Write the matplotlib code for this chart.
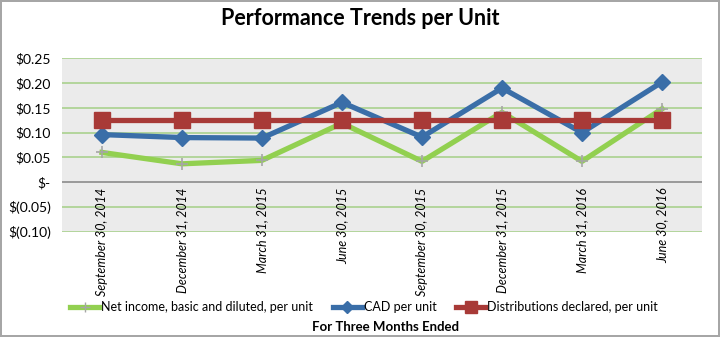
import matplotlib.pyplot as plt
from matplotlib.lines import Line2D

# data
quarters = ["September 30, 2014", "December 31, 2014", "March 31, 2015", "June 30, 2015",
            "September 30, 2015", "December 31, 2015", "March 31, 2016", "June 30, 2016"]
net_income = [0.060, 0.037, 0.044, 0.119, 0.042, 0.141, 0.042, 0.148]
cad = [0.096, 0.090, 0.089, 0.161, 0.091, 0.190, 0.100, 0.202]
distributions = [0.125, 0.125, 0.125, 0.125, 0.125, 0.125, 0.125, 0.125]
yticks = [-0.10, -0.05, 0.0, 0.05, 0.10, 0.15, 0.20, 0.25]

plt.rcParams['font.family'] = ['Lato', 'DejaVu Sans']

def money(v):
    if abs(v) < 1e-9:
        return "$-"
    if v < 0:
        return "$(%.2f)" % abs(v)
    return "$%.2f" % v

fig = plt.figure(figsize=(7.2, 3.37), dpi=100)
fig.patch.set_edgecolor('#a6a6a6')
fig.patch.set_linewidth(1.5)
ax = fig.add_axes([62/720, 1 - 231.7/337, 640/720, (231.7 - 58.3)/337])
ax.set_facecolor('#ebebeb')

x = range(len(quarters))
ax.plot(x, net_income, color='#92d050', lw=3.8, marker='+', ms=9, mec='#a6a6a6', mew=1.2,
        label='Net income, basic and diluted, per unit', zorder=3)
ax.plot(x, cad, color='#3a6ea8', lw=3.8, marker='D', ms=8, mfc='#3a6ea8', mec='#3a6ea8',
        label='CAD per unit', zorder=4)
ax.plot(x, distributions, color='#a83a37', lw=3.8, marker='s', ms=11, mfc='#a83a37', mec='#a83a37',
        label='Distributions declared, per unit', zorder=5)

ax.set_xlim(-0.5, len(quarters) - 0.5)
ax.set_ylim(-0.10, 0.25)
ax.set_yticks(yticks)
ax.set_yticklabels([money(v) for v in yticks], fontsize=10)
ax.tick_params(axis='y', length=0, pad=8)
ax.set_xticks([])
for v in yticks:
    if v != 0:
        ax.axhline(v, color='#a9d18e', lw=1.2, zorder=1)
ax.axhline(0, color='#8c8c8c', lw=1.2, zorder=2)
for s in ax.spines.values():
    s.set_visible(False)

# category labels hang from the zero line, like Excel
for i, q in enumerate(quarters):
    ax.annotate(q, xy=(i, 0), xytext=(0, -4), textcoords='offset points', rotation=90,
                ha='center', va='top', fontsize=9, style='italic', annotation_clip=False)

fig.suptitle("Performance Trends per Unit", fontsize=15.5, fontweight='bold', y=0.975)
fig.text(385/720, 1 - 327/337, "For Three Months Ended", ha='center', va='center',
         fontsize=9.5, fontweight='bold')

handles = [Line2D([], [], color='#92d050', lw=3.8, marker='+', ms=7, mec='#a6a6a6'),
           Line2D([], [], color='#3a6ea8', lw=3.8, marker='D', ms=6),
           Line2D([], [], color='#a83a37', lw=3.8, marker='s', ms=8)]
labels = ['Net income, basic and diluted, per unit', 'CAD per unit', 'Distributions declared, per unit']
fig.legend(handles, labels, loc='center', bbox_to_anchor=(364/720, 1 - 307/337), ncol=3,
           frameon=False, fontsize=9, handlelength=2.3, handletextpad=0.15, columnspacing=1.6)

fig.savefig('out.png', dpi=100)
